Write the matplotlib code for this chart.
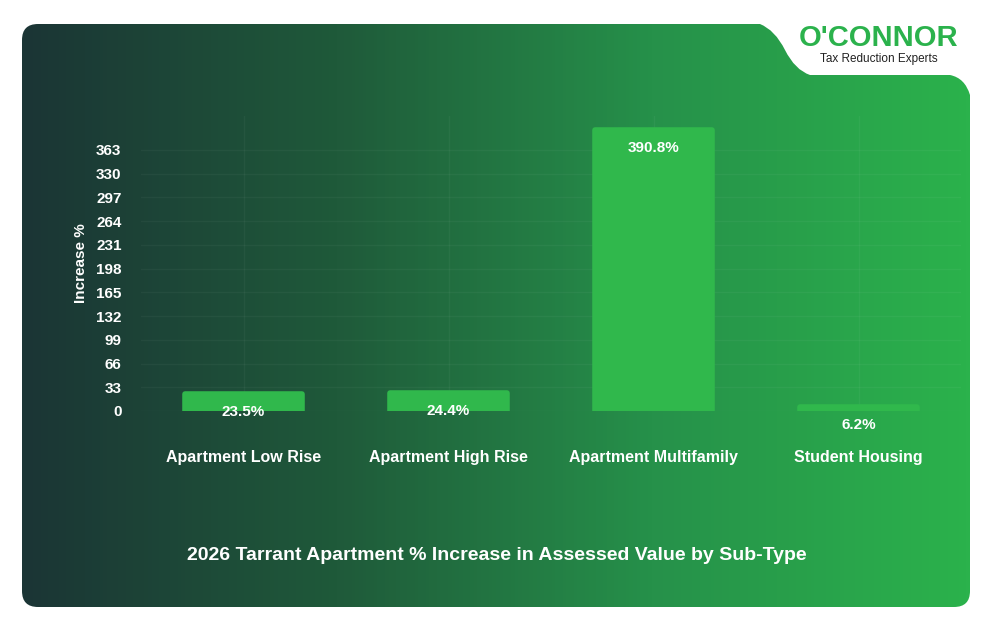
import matplotlib
matplotlib.use("Agg")
import matplotlib.pyplot as plt
import numpy as np
from matplotlib.patches import FancyBboxPatch, PathPatch
from matplotlib.path import Path
from matplotlib.colors import LinearSegmentedColormap

plt.rcParams['font.family'] = ['Liberation Sans', 'DejaVu Sans']

categories = ["Apartment Low Rise", "Apartment High Rise", "Apartment Multifamily", "Student Housing"]
values = [23.5, 24.4, 390.8, 6.2]
yticks = [0, 33, 66, 99, 132, 165, 198, 231, 264, 297, 330, 363]
title = "2026 Tarrant Apartment % Increase in Assessed Value by Sub-Type"

W, H = 994, 632
fig = plt.figure(figsize=(W/100, H/100), dpi=100)
fig.patch.set_facecolor("white")

bg = fig.add_axes([0, 0, 1, 1])
bg.set_xlim(0, W); bg.set_ylim(H, 0); bg.axis("off")
cmap = LinearSegmentedColormap.from_list("g", ["#1b3535", "#1f5a3a", "#26914a", "#2bb24c"])
grad = np.linspace(0, 1, 256)[None, :]
im = bg.imshow(grad, cmap=cmap, extent=[22, 970, 607, 24], aspect="auto")
panel = FancyBboxPatch((22, 24), 948, 583, boxstyle="round,pad=0,rounding_size=16",
                       transform=bg.transData, facecolor="none", edgecolor="none")
bg.add_patch(panel)
im.set_clip_path(panel)
verts = [(760, 20), (760, 24), (775, 30), (785, 50), (795, 70), (810, 75), (950, 75), (965, 78), (970, 95), (975, 95), (975, 20), (760, 20)]
codes = [Path.MOVETO, Path.LINETO, Path.CURVE3, Path.CURVE3, Path.CURVE3, Path.CURVE3,
         Path.LINETO, Path.CURVE3, Path.CURVE3, Path.LINETO, Path.LINETO, Path.CLOSEPOLY]
bg.add_patch(PathPatch(Path(verts, codes), facecolor="white", edgecolor="none", zorder=3))
bg.text(879, 38, "O'CONNOR", color="#2bb24c", fontsize=21, fontweight="bold",
        ha="center", va="center", zorder=4)
bg.text(879, 59, "Tax Reduction Experts", color="#222222", fontsize=8.5,
        ha="center", va="center", zorder=4)
bg.text(497, 555, title, color="white", fontsize=14, fontweight="bold", ha="center", va="center")

ax = fig.add_axes([141/W, (H-411)/H, 820/W, 295/H])
ax.set_facecolor("none")
x = np.arange(len(categories))
ax.bar(x, values, width=0.57, color="#30b84c", edgecolor="#30b84c", linewidth=4,
       joinstyle="round", zorder=2)
for xi, v in zip(x, values):
    ax.text(xi, v - 25, f"{v}%", color="white", fontsize=11, fontweight="bold",
            ha="center", va="center", zorder=3)
ax.set_xlim(-0.5, 3.5); ax.set_ylim(0, 410)
ax.set_yticks(yticks)
ax.set_yticklabels([str(t) for t in yticks], color="white", fontsize=11, fontweight="bold")
ax.set_xticks(x)
ax.set_xticklabels(categories, color="white", fontsize=11.5, fontweight="bold")
ax.tick_params(axis="x", length=0, pad=42)
ax.tick_params(axis="y", length=0, pad=14)
for lbl in ax.get_xticklabels():
    pass
ax.tick_params(axis="x", pad=42)
ax.grid(True, color="white", alpha=0.04, linewidth=1)
ax.set_ylabel("Increase %", color="white", fontsize=11, fontweight="bold", labelpad=6)
for s in ax.spines.values():
    s.set_visible(False)
ax.tick_params(axis="x", pad=28)
fig.savefig("out.png", dpi=100)
